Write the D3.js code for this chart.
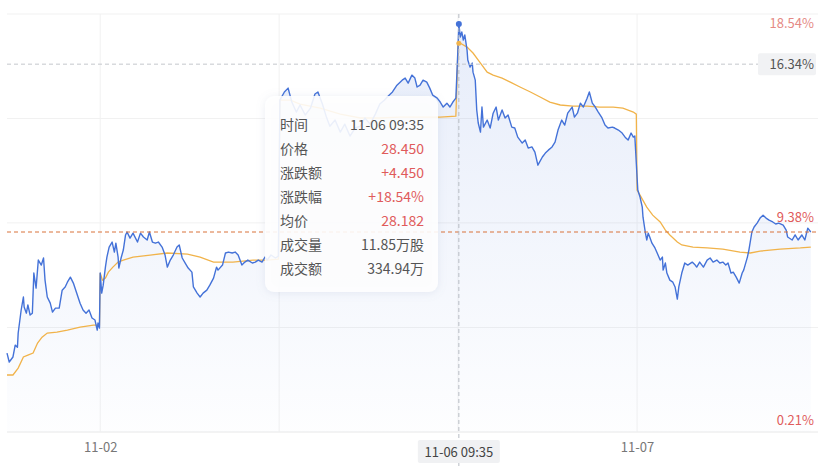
<!DOCTYPE html>
<html>
<head>
<meta charset="utf-8">
<script src="https://cdn.jsdelivr.net/npm/d3@7"></script>
<style>
  body { margin: 0; background: #fff; }
  svg { font-family: "Noto Sans CJK SC", "Noto Sans", sans-serif; }
</style>
</head>
<body>
<div class="chart"></div>
<script>
// minute index over the visible days (each trading day = 240 minutes, 11-01 starts at 0)
const priceMin = [115,118,123,126,129,130,134,137,138,141,143,146,149,151,154,157,161,164,166,169,173,176,180,185,189,193,196,200,204,208,213,217,221,225,229,233,236,237,239,
  240,242,244,247,249,252,256,259,261,264,265,268,271,274,276,280,284,290,294,298,303,306,310,314,318,323,327,330,334,338,343,346,350,354,358,363,365,370,374,378,383,387,392,396,398,404,408,412,417,421,425,430,434,438,444,448,452,457,461,464,469,475,479,
  481,487,492,497,503,508,515,522,528,532,538,543,548,555,562,568,575,582,589,595,602,609,615,621,625,632,638,645,649,653,658,662,665,669,673,678,682,686,692,696,700,705,709,713,717,
  720,721,723,725,727,729,732,733,736,739,740,743,745,747,750,752,754,759,763,767,771,774,779,783,787,792,796,800,806,810,814,819,823,827,833,837,841,846,850,854,859,863,867,873,876,880,884,888,893,896,900,904,908,913,917,921,927,930,935,940,944,948,952,955,957,
  961,964,967,968,971,973,975,977,980,984,987,991,994,995,998,1000,1004,1008,1011,1014,1016,1020,1024,1028,1034,1038,1040,1044,1049,1054,1058,1062,1067,1071,1075,1079,1082,1086,1089,1093,1097,1101,1103,1108,1110,1114,1117,1121,1125,1129,1133,1137,1142,1146,1150,1156,1160,1162,1168,1172,1176,1181,1185,1189,1193];
// change in %
const priceVal = [3.67,3.28,3.50,4.02,3.93,4.55,5.56,6.13,5.69,5.42,5.78,5.34,5.42,7.18,6.52,7.75,7.53,7.84,6.87,6.13,5.86,5.47,5.64,5.64,6.43,6.57,6.78,7.00,6.74,6.35,5.86,5.56,5.42,5.56,5.21,5.12,4.68,4.99,4.77,
  7.18,6.30,6.65,7.44,7.88,8.32,8.54,8.10,8.49,7.88,7.40,7.84,8.19,8.85,8.98,8.71,8.93,8.54,8.93,8.76,8.63,8.98,8.54,8.49,8.54,8.32,7.97,7.44,7.75,7.97,8.32,8.41,7.84,7.62,7.40,7.22,6.57,6.30,6.13,6.30,6.43,6.65,6.96,7.44,7.31,7.53,8.06,8.10,8.06,8.10,7.97,7.53,7.66,7.75,7.62,7.66,7.75,7.66,7.88,7.75,7.97,7.84,7.92,
  14.76,15.12,15.29,14.68,14.24,14.55,14.11,14.41,15.03,15.12,14.59,14.06,13.62,13.89,13.36,13.71,13.19,13.54,13.62,13.98,13.71,14.15,14.59,14.76,14.90,15.12,15.42,15.64,15.73,15.51,15.86,15.73,15.34,15.42,15.64,15.55,15.29,14.98,14.85,14.68,14.46,14.63,14.46,14.68,14.85,
  17.18,18.10,17.53,17.75,17.40,17.62,16.96,16.52,16.21,16.39,15.99,15.64,14.33,13.76,13.36,14.46,13.58,13.89,13.54,14.19,14.46,13.89,14.33,13.98,14.11,13.58,13.54,13.14,12.88,13.01,12.66,12.71,12.48,11.91,12.27,12.44,12.57,12.71,12.92,13.45,13.89,13.67,14.19,14.46,14.02,14.19,14.63,14.46,14.85,15.12,14.63,14.46,14.24,13.98,13.67,13.54,13.58,13.54,13.45,13.32,13.14,13.01,13.32,13.14,13.19,
  10.82,10.51,10.07,9.63,8.98,8.63,8.93,8.76,8.49,8.28,8.06,7.75,7.88,7.31,7.62,7.18,6.87,6.78,6.57,6.04,6.57,7.18,7.62,7.53,7.66,7.53,7.44,7.66,7.44,7.75,7.84,7.66,7.75,7.62,7.66,7.53,7.62,7.18,7.22,7.00,6.74,7.18,7.31,7.88,8.19,8.98,9.20,9.37,9.59,9.72,9.59,9.50,9.42,9.33,9.37,9.28,9.06,8.76,8.63,8.85,8.63,8.85,8.63,9.15,8.98];

const avgMin = [115,123,130,137,143,150,156,162,169,182,196,213,231,239,
  240,243,247,251,257,264,271,284,307,330,357,374,392,418,445,464,479,
  481,495,508,535,562,589,615,642,669,696,717,
  720,723,732,740,750,759,767,779,790,803,817,830,843,857,874,893,910,928,941,955,959,
  960,964,973,981,991,998,1004,1014,1020,1035,1054,1075,1098,1112,1125,1152,1179,1193];
const avgVal = [2.71,2.71,3.01,3.50,3.58,3.67,4.11,4.37,4.55,4.59,4.68,4.81,4.90,4.90,
  7.18,6.87,6.96,7.22,7.44,7.66,7.75,7.88,7.97,8.06,8.01,7.88,7.66,7.66,7.75,7.75,7.79,
  14.76,14.76,14.59,14.41,14.15,13.98,13.98,14.02,14.02,14.02,14.06,
  17.18,17.26,17.09,16.83,16.39,15.99,15.86,15.73,15.55,15.34,15.12,14.90,14.68,14.55,14.50,14.50,14.46,14.46,14.41,14.24,14.15,
  10.82,10.60,10.07,9.72,9.42,9.06,8.85,8.54,8.41,8.32,8.28,8.23,8.10,8.06,8.14,8.23,8.28,8.32];

const dayStarts = [240, 480, 720, 960];
const dayTicks = [240, 960];
const dayLabels = ['11-02', '11-07'];
const yTicks = [18.54, 9.38, 0.21];
const yTickLabels = ['18.54%', '9.38%', '0.21%'];
const yGrid = [0.21, 4.79, 9.38, 13.96, 18.54];

const hoverMin = 721;
const hoverTime = '11-06 09:35';
const hoverPct = 16.34;
const tipLabels = ['时间', '价格', '涨跌额', '涨跌幅', '均价', '成交量', '成交额'];
const tipValues = ['11-06 09:35', '28.450', '+4.450', '+18.54%', '28.182', '11.85万股', '334.94万'];

const width = 832, height = 466;
const plotL = 7, plotR = 816, plotT = 14, plotB = 432;
const blue = '#4472d8', orange = '#f1b34a', red = '#e05b5b';

const x = d3.scaleLinear().domain([115, 1200]).range([plotL, plotR]);
const y = d3.scaleLinear().domain([0.21, 18.54]).range([plotB, plotT]);

const svg = d3.select('.chart').append('svg')
    .attr('width', width)
    .attr('height', height);

const defs = svg.append('defs');
const grad = defs.append('linearGradient')
    .attr('id', 'areaFill')
    .attr('x1', 0).attr('y1', 0).attr('x2', 0).attr('y2', 1);
grad.append('stop').attr('offset', '0%').attr('stop-color', blue).attr('stop-opacity', 0.13);
grad.append('stop').attr('offset', '100%').attr('stop-color', blue).attr('stop-opacity', 0.01);

const shadow = defs.append('filter').attr('id', 'tipShadow')
    .attr('x', '-20%').attr('y', '-20%').attr('width', '140%').attr('height', '140%');
shadow.append('feDropShadow')
    .attr('dx', 0).attr('dy', 1).attr('stdDeviation', 4)
    .attr('flood-color', '#8090b0').attr('flood-opacity', 0.18);

// grid
svg.selectAll('.hgrid')
    .data(yGrid)
    .enter()
    .append('line')
    .attr('x1', plotL).attr('x2', plotR + 2)
    .attr('y1', d => y(d)).attr('y2', d => y(d))
    .style('stroke', (d, i) => i === 0 ? '#e8e8e8' : '#f1f1f1');

svg.selectAll('.vgrid')
    .data(dayStarts)
    .enter()
    .append('line')
    .attr('x1', d => x(d)).attr('x2', d => x(d))
    .attr('y1', plotT).attr('y2', plotB)
    .style('stroke', '#f1f1f1');

const pts = priceMin.map((m, i) => [m, priceVal[i]]);
const avgPts = avgMin.map((m, i) => [m, avgVal[i]]);

svg.append('path')
    .datum(pts)
    .attr('d', d3.area().x(d => x(d[0])).y0(plotB).y1(d => y(d[1])))
    .style('fill', 'url(#areaFill)');

svg.append('path')
    .datum(avgPts)
    .attr('d', d3.line().x(d => x(d[0])).y(d => y(d[1])))
    .style('fill', 'none')
    .style('stroke', orange)
    .style('stroke-width', 1.3);

svg.append('path')
    .datum(pts)
    .attr('d', d3.line().x(d => x(d[0])).y(d => y(d[1])))
    .style('fill', 'none')
    .style('stroke', blue)
    .style('stroke-width', 1.4)
    .style('stroke-linejoin', 'round');

// last price line
const lastVal = priceVal[priceVal.length - 1];
svg.append('line')
    .attr('x1', plotL).attr('x2', plotR)
    .attr('y1', y(lastVal)).attr('y2', y(lastVal))
    .style('stroke', '#d9733a')
    .style('stroke-width', 1)
    .style('stroke-dasharray', '4,3');

// x axis
const xAxis = svg.append('g')
    .attr('transform', `translate(0,${plotB})`)
    .call(d3.axisBottom(x).tickValues(dayTicks).tickSize(0).tickPadding(11)
        .tickFormat((d, i) => dayLabels[i]));
xAxis.select('.domain').remove();
xAxis.selectAll('text')
    .style('font-size', '13px')
    .style('fill', '#777')
    .style('font-family', '"Noto Sans CJK SC", sans-serif');

// y labels on the right
const yAxis = svg.append('g')
    .attr('transform', `translate(${plotR - 2},0)`)
    .call(d3.axisLeft(y).tickValues(yTicks).tickSize(0).tickPadding(0)
        .tickFormat((d, i) => yTickLabels[i]));
yAxis.select('.domain').remove();
yAxis.selectAll('text')
    .attr('dy', (d, i) => [13, -1, -8][i])
    .style('font-size', '13px')
    .style('fill', (d, i) => i === 0 ? '#e58a85' : red)
    .style('font-family', '"Noto Sans CJK SC", sans-serif');

// crosshair
const hx = x(hoverMin);
const hy = y(hoverPct);
svg.append('line')
    .attr('x1', hx).attr('x2', hx)
    .attr('y1', plotT).attr('y2', height)
    .style('stroke', '#b8bcc4')
    .style('stroke-dasharray', '4,3');
svg.append('line')
    .attr('x1', plotL).attr('x2', plotR - 58)
    .attr('y1', hy).attr('y2', hy)
    .style('stroke', '#c4c7cc')
    .style('stroke-dasharray', '4,3');

const hoverIdx = priceMin.indexOf(hoverMin);
svg.append('circle')
    .attr('cx', hx).attr('cy', y(priceVal[hoverIdx]))
    .attr('r', 3)
    .style('fill', blue);
svg.append('circle')
    .attr('cx', hx).attr('cy', y(d3.max(avgVal)))
    .attr('r', 2.5)
    .style('fill', orange);

// crosshair labels
svg.append('rect')
    .attr('x', hx - 41).attr('y', plotB + 8)
    .attr('width', 82).attr('height', 23)
    .attr('rx', 2)
    .style('fill', '#f0f1f3');
svg.append('text')
    .attr('x', hx).attr('y', plotB + 25)
    .attr('text-anchor', 'middle')
    .style('font-size', '13px')
    .style('fill', '#444')
    .text(hoverTime);

svg.append('rect')
    .attr('x', plotR - 58).attr('y', hy - 11)
    .attr('width', 58).attr('height', 22)
    .attr('rx', 2)
    .style('fill', '#f1f2f4');
svg.append('text')
    .attr('x', plotR - 2).attr('y', hy + 5)
    .attr('text-anchor', 'end')
    .style('font-size', '13px')
    .style('fill', '#555')
    .text(hoverPct.toFixed(2) + '%');

// tooltip
const tip = svg.append('g').attr('transform', 'translate(265,96)');
tip.append('rect')
    .attr('width', 173).attr('height', 196)
    .attr('rx', 9)
    .style('fill', '#fff')
    .style('fill-opacity', 0.88)
    .attr('filter', 'url(#tipShadow)');

tip.selectAll('.tlabel')
    .data(tipLabels)
    .enter()
    .append('text')
    .attr('x', 15)
    .attr('y', (d, i) => 34 + i * 24)
    .style('font-size', '14px')
    .style('fill', '#555')
    .text(d => d);

tip.selectAll('.tvalue')
    .data(tipValues)
    .enter()
    .append('text')
    .attr('x', 159)
    .attr('y', (d, i) => 34 + i * 24)
    .attr('text-anchor', 'end')
    .style('font-size', '14px')
    .style('fill', (d, i) => (i >= 1 && i <= 4) ? red : '#555')
    .text(d => d);
</script>
</body>
</html>
